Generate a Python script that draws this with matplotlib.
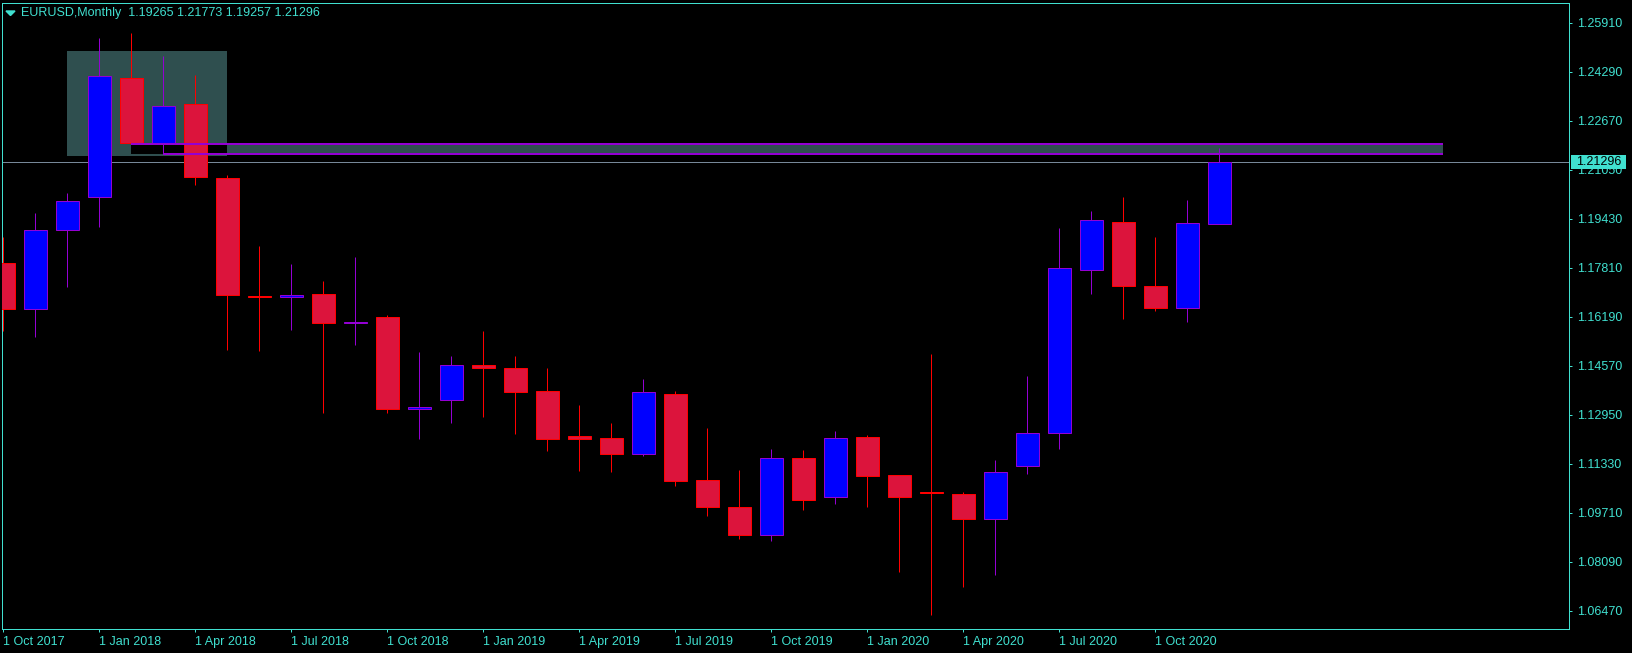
from __future__ import annotations

import matplotlib
matplotlib.use("Agg")
import matplotlib.pyplot as plt
import matplotlib.transforms as mtransforms
from matplotlib.patches import Polygon, Rectangle

import numpy as np
import pandas as pd

plt.rcParams["font.family"] = ["Liberation Sans", "DejaVu Sans"]

# ---- data (EURUSD, monthly bars) ----
months = pd.date_range("2017-10-01", periods=39, freq="MS")
opens = [1.1796, 1.1646, 1.1905, 1.2016, 1.2408, 1.2194, 1.2321, 1.2077, 1.1689, 1.1684,
         1.1693, 1.1598, 1.1617, 1.1315, 1.1343, 1.1458, 1.1448, 1.1372, 1.1226, 1.1217,
         1.1166, 1.1363, 1.1079, 1.0989, 1.0896, 1.1151, 1.1024, 1.1220, 1.1095, 1.1041,
         1.1032, 1.0951, 1.1126, 1.1234, 1.1772, 1.1931, 1.1720, 1.1647, 1.19265]
highs = [1.1882, 1.1962, 1.2028, 1.2539, 1.2557, 1.2482, 1.2417, 1.2088, 1.1853, 1.1793,
         1.1737, 1.1816, 1.1625, 1.1502, 1.1489, 1.1572, 1.1489, 1.1449, 1.1327, 1.1268,
         1.1413, 1.1373, 1.1250, 1.1112, 1.1181, 1.1178, 1.1241, 1.1228, 1.1096, 1.1496,
         1.1039, 1.1145, 1.1423, 1.1911, 1.1969, 1.2015, 1.1883, 1.2005, 1.21773]
lows = [1.1572, 1.1553, 1.1718, 1.1917, 1.2189, 1.2157, 1.2054, 1.1509, 1.1506, 1.1575,
        1.1301, 1.1526, 1.1301, 1.1216, 1.1269, 1.1288, 1.1232, 1.1176, 1.1109, 1.1107,
        1.1160, 1.1060, 1.0961, 1.0885, 1.0878, 1.0980, 1.1001, 1.0991, 1.0776, 1.0634,
        1.0726, 1.0765, 1.1100, 1.1183, 1.1695, 1.1612, 1.1639, 1.1603, 1.19257]
closes = [1.1646, 1.1905, 1.2001, 1.2416, 1.2194, 1.2317, 1.2082, 1.1692, 1.1683, 1.1690,
          1.1599, 1.1603, 1.1315, 1.1320, 1.1458, 1.1448, 1.1371, 1.1216, 1.1216, 1.1166,
          1.1369, 1.1077, 1.0989, 1.0898, 1.1151, 1.1014, 1.1217, 1.1093, 1.1024, 1.1035,
          1.0951, 1.1105, 1.1234, 1.1779, 1.1938, 1.1722, 1.1647, 1.1928, 1.21296]

price_ticks = [1.06470, 1.08090, 1.09710, 1.11330, 1.12950, 1.14570, 1.16190,
               1.17810, 1.19430, 1.21050, 1.22670, 1.24290, 1.25910]
symbol = "EURUSD,Monthly"

# drawn objects: supply box and the horizontal zone after it
box_bars = (2, 7)
box_prices = (1.2151, 1.2497)
zone_bars = (4, 45)
zone_prices = (1.2157, 1.2190)

# ---- colours ----
BG = "black"
FG = "#40E0D0"
BEAR_FILL, BEAR_EDGE = "#DC143C", "#FF0000"
BULL_FILL, BULL_EDGE = "#0000FF", "#9400D3"
ZONE = "#2F4F4F"
PRICE_LINE = "#778899"

W, H = 1633, 653
PX = 72 / 100  # one pixel in points at dpi 100


def draw_candles(ax):
    x = np.arange(len(months))
    o, h, l, c = (np.array(v) for v in (opens, highs, lows, closes))
    up = c > o
    mid = (o + c) / 2
    body = np.maximum(np.abs(c - o), 0.0004)
    for mask, fill, edge in ((up, BULL_FILL, BULL_EDGE), (~up, BEAR_FILL, BEAR_EDGE)):
        ax.vlines(x[mask], l[mask], h[mask], color=edge, lw=PX, zorder=3)
        ax.bar(x[mask], body[mask], bottom=mid[mask] - body[mask] / 2, width=0.72,
               color=fill, edgecolor=edge, linewidth=PX, zorder=4)


def draw_objects(ax):
    b0, b1 = box_bars
    z0, z1 = zone_bars
    lo, hi = zone_prices
    ax.add_patch(Rectangle((b0, box_prices[0]), b1 - b0, box_prices[1] - box_prices[0],
                           color=ZONE, lw=0, zorder=1))
    # overlapping background rectangles are XOR-ed by the terminal -> black
    ax.add_patch(Rectangle((z0, lo), b1 - z0, hi - lo, color=BG, lw=0, zorder=1.5))
    ax.add_patch(Rectangle((b1, lo), z1 - b1, hi - lo, color=ZONE, lw=0, zorder=1.5))
    ax.hlines(hi, z0, z1, color=BULL_EDGE, lw=2 * PX, zorder=5)
    ax.hlines(lo, z0 + 1, z1, color=BULL_EDGE, lw=2 * PX, zorder=5)


def main() -> None:
    fig = plt.figure(figsize=(W / 100, H / 100), dpi=100, facecolor=BG)
    left, right, top, bottom = 2.5, 1569, 2.5, 629
    ax = fig.add_axes([left / W, (H - bottom) / H, (right - left) / W, (bottom - top) / H])
    ax.set_facecolor(BG)

    draw_objects(ax)
    draw_candles(ax)
    ax.axhline(closes[-1], color=PRICE_LINE, lw=PX, zorder=2)

    ax.set_xlim(-1 / 32, (right - 3.5) / 32)
    ax.set_ylim(1.05866, 1.26578)

    for spine in ax.spines.values():
        spine.set_color(FG)
        spine.set_linewidth(PX)

    ax.yaxis.tick_right()
    ax.set_yticks(price_ticks, labels=[f"{p:.5f}" for p in price_ticks])
    ax.tick_params(axis="y", length=3 * PX, width=PX, colors=FG, labelsize=9, pad=5 * PX)

    xt = np.arange(0, len(months), 3)
    ax.set_xticks(xt, labels=[f"1 {months[i]:%b %Y}" for i in xt])
    for lab in ax.get_xticklabels():
        lab.set_horizontalalignment("left")
        lab.set_verticalalignment("baseline")
    ax.tick_params(axis="x", length=3 * PX, width=PX, colors=FG, labelsize=9, pad=13 * PX)

    # current price tag on the scale
    trans = mtransforms.blended_transform_factory(ax.transAxes, ax.transData)
    span = right - left
    tag_h = 13.7 * (1.26578 - 1.05866) / (bottom - top)
    ax.add_patch(Rectangle(((1571 - left) / span, closes[-1] - tag_h / 2), 55 / span, tag_h,
                           transform=trans, color=FG, lw=0, clip_on=False, zorder=10))
    ax.text((1576 - left) / span, closes[-1], f"{closes[-1]:.5f}", transform=trans,
            ha="left", va="center", fontsize=9, color="black", clip_on=False, zorder=11)

    # header
    fig.add_artist(Polygon([(6 / W, 1 - 11 / H), (15 / W, 1 - 11 / H), (10.5 / W, 1 - 15.5 / H)],
                           closed=True, color=FG, transform=fig.transFigure))
    ohlc = " ".join(f"{v:.5f}" for v in (opens[-1], highs[-1], lows[-1], closes[-1]))
    fig.text(21 / W, 1 - 13 / H, f"{symbol}  {ohlc}", ha="left", va="center",
             fontsize=9, color=FG)

    fig.savefig("out.png", dpi=100, facecolor=BG)
    plt.close(fig)


if __name__ == "__main__":
    main()
